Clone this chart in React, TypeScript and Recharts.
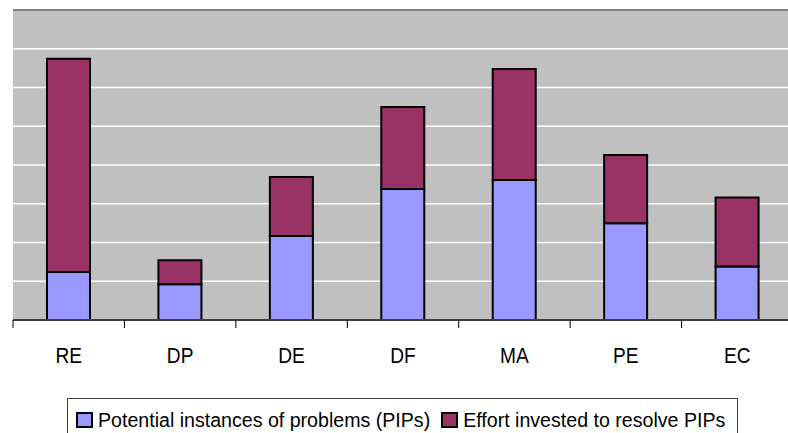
import { Bar, BarChart, CartesianGrid, ReferenceLine, XAxis, YAxis } from 'recharts';

const categories = ['RE', 'DP', 'DE', 'DF', 'MA', 'PE', 'EC'];
const pips = [1.24, 0.92, 2.17, 3.38, 3.61, 2.5, 1.38];
const effort = [5.5, 0.62, 1.52, 2.12, 2.87, 1.76, 1.78];
const yTicks = [0, 1, 2, 3, 4, 5, 6, 7, 8];

const PIP_COLOR = '#9999FF';
const EFFORT_COLOR = '#993366';
const font = 'Arial, "Liberation Sans", sans-serif';

const data = categories.map((cat, i) => ({ cat, pips: pips[i], effort: effort[i] }));

// label at band centre, tick mark at the band's left boundary (and right one for the last band)
const CategoryTick = (props: any) => {
    const { x, y, payload, index } = props;
    const off = payload?.offset ?? 55.7;
    const last = index === categories.length - 1;
    return (
        <g>
            <line x1={x - off} y1={y} x2={x - off} y2={y + 8} stroke='#000' strokeWidth={1} />
            {last && <line x1={x + off} y1={y} x2={x + off} y2={y + 8} stroke='#000' strokeWidth={1} />}
            <text
                transform={`translate(${x},${y + 43}) scale(0.87,1)`}
                textAnchor='middle'
                fontSize={22}
                fontFamily={font}
                fill='#000'
            >
                {payload.value}
            </text>
        </g>
    );
};

// value axis has no labels in the original
const EmptyTick = () => <g />;

const LegendItem = ({ color, label }: { color: string; label: string }) => (
    <span style={{ display: 'flex', alignItems: 'center' }}>
        <span
            style={{
                width: 13,
                height: 12,
                backgroundColor: color,
                border: '2px solid #000',
                marginRight: 5
            }}
        />
        <span>{label}</span>
    </span>
);

export default function App() {
    return (
        <div
            style={{
                position: 'absolute',
                left: 0,
                top: 0,
                width: 788,
                height: 433,
                overflow: 'hidden',
                background: '#fff'
            }}
        >
            <BarChart
                width={800}
                height={433}
                data={data}
                margin={{ top: 10, right: 7, left: 13, bottom: 0 }}
                barSize={43}
            >
                <CartesianGrid fill='#C0C0C0' stroke='#FFFFFF' strokeWidth={1.5} vertical={false} />
                <YAxis
                    domain={[0, 8]}
                    ticks={yTicks}
                    interval={0}
                    width={0}
                    tick={<EmptyTick />}
                    tickLine={false}
                    axisLine={{ stroke: '#808080', strokeWidth: 2 }}
                />
                <XAxis
                    dataKey='cat'
                    height={113}
                    tickSize={0}
                    tickMargin={0}
                    tickLine={false}
                    interval={0}
                    axisLine={{ stroke: '#404040', strokeWidth: 2 }}
                    tick={<CategoryTick />}
                />
                <ReferenceLine y={8} stroke='#808080' strokeWidth={2} />
                <Bar dataKey='pips' stackId='a' fill={PIP_COLOR} stroke='#000' strokeWidth={2} isAnimationActive={false} />
                <Bar dataKey='effort' stackId='a' fill={EFFORT_COLOR} stroke='#000' strokeWidth={2} isAnimationActive={false} />
            </BarChart>
            <div
                style={{
                    position: 'absolute',
                    left: 67,
                    top: 398,
                    width: 671,
                    height: 50,
                    boxSizing: 'border-box',
                    border: '1px solid #404040',
                    background: '#fff',
                    display: 'flex',
                    alignItems: 'flex-start',
                    gap: 11,
                    paddingLeft: 8,
                    paddingTop: 11,
                    fontFamily: font,
                    fontSize: 19.6,
                    lineHeight: '20px',
                    color: '#000'
                }}
            >
                <LegendItem color={PIP_COLOR} label='Potential instances of problems (PIPs)' />
                <LegendItem color={EFFORT_COLOR} label='Effort invested to resolve PIPs' />
            </div>
        </div>
    );
}
